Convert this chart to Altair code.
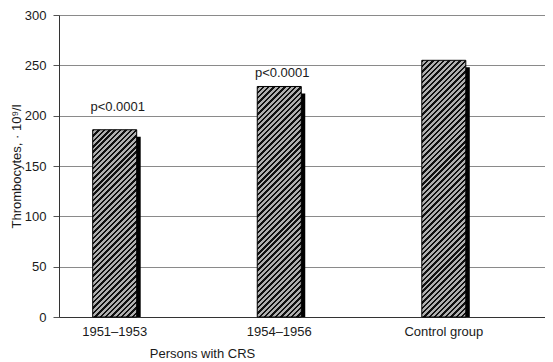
import altair as alt
import pandas as pd

# ---- data ----
categories = ["1951–1953", "1954–1956", "Control group"]
values = [186, 229, 255]
p_categories = ["1951–1953", "1954–1956"]
p_labels = ["p<0.0001", "p<0.0001"]
p_label_at = [205, 238]          # data-unit anchor of each annotation
y_ticks = [0, 50, 100, 150, 200, 250, 300]
y_title = "Thrombocytes,  · 10⁹/l"
x_title = "Persons with CRS"

# ---- layout / style ----
FONT = "Liberation Sans"
PAD_L, PAD_T = 51, 7
PLOT_W, PLOT_H = 486, 302
Y_MAX = 300
BAR_W = 44
STEP = 164.55
N = len(categories)
P_INNER = 1 - BAR_W / STEP
P_OUTER = (PLOT_W / STEP - (N - P_INNER)) / 2
ALIGN = 33.7 / (PLOT_W - STEP * (N - P_INNER))
DARK = "#111111"
LIGHT = "#b0b0b0"
PERIOD = 3.8  # stripe period (px, perpendicular)


def stripes(v):
    w = BAR_W
    h = v / Y_MAX * PLOT_H
    c = (w + h) / (w * w + h * h)
    n = max(1, round((w + h) / 2 ** 0.5 / PERIOD))
    stops = []
    for k in range(n):
        a = k / n
        b = (k + 0.45) / n
        e = (k + 1) / n
        stops += [
            alt.GradientStop(offset=a, color=DARK),
            alt.GradientStop(offset=b, color=DARK),
            alt.GradientStop(offset=b, color=LIGHT),
            alt.GradientStop(offset=e, color=LIGHT),
        ]
    return alt.LinearGradient(gradient="linear", x1=0, y1=0, x2=w * c, y2=h * c, stops=stops)


df = pd.DataFrame({"cat": categories, "value": values})
tdf = pd.DataFrame({"cat": p_categories, "value": p_label_at, "label": p_labels})

x_enc = alt.X(
    "cat:N",
    sort=categories,
    scale=alt.Scale(paddingInner=P_INNER, paddingOuter=P_OUTER, align=ALIGN),
    axis=alt.Axis(
        title=x_title,
        labelAngle=0,
        ticks=False,
        tickSize=0,
        labelPadding=8,
        labelFont=FONT,
        labelFontSize=13,
        labelColor="#1a1a1a",
        domainColor="#333333",
        domainWidth=1,
        grid=False,
        titleFont=FONT,
        titleFontSize=13,
        titleFontWeight="normal",
        titleColor="#1a1a1a",
        titleX=143,
        titleY=40,
        titleAlign="center",
        titleBaseline="alphabetic",
    ),
)
y_enc = alt.Y(
    "value:Q",
    scale=alt.Scale(domain=[0, Y_MAX], nice=False),
    axis=alt.Axis(
        title=y_title,
        values=y_ticks,
        tickSize=6,
        tickColor="#555555",
        labelPadding=7,
        labelFont=FONT,
        labelFontSize=13,
        labelColor="#1a1a1a",
        domainColor="#333333",
        grid=True,
        gridColor="#8a8a8a",
        gridWidth=1,
        titleFont=FONT,
        titleFontSize=13,
        titleFontWeight="normal",
        titleColor="#1a1a1a",
        titleX=-39,
        titleY=PLOT_H / 2,
        titleAngle=270,
        titleAlign="center",
        titleBaseline="alphabetic",
    ),
)

base = alt.Chart(df).encode(x=x_enc, y=y_enc)

shadow = base.mark_bar(color="#000000", xOffset=4, x2Offset=4, yOffset=7, y2Offset=0, clip=True)

layers = [shadow]
for cat, v in zip(categories, values):
    layers.append(
        base.transform_filter(alt.datum.cat == cat).mark_bar(
            fill=stripes(v), stroke="#000000", strokeWidth=1
        )
    )

texts = alt.Chart(tdf).mark_text(
    font=FONT, fontSize=13, baseline="alphabetic", align="center", dx=3, color="#1a1a1a"
).encode(x=x_enc, y=y_enc, text="label:N")
layers.append(texts)

chart = (
    alt.layer(*layers)
    .properties(
        width=PLOT_W,
        height=PLOT_H,
        padding={"left": PAD_L, "top": PAD_T, "right": 0, "bottom": 43},
        autosize=alt.AutoSizeParams(type="none"),
    )
    .configure_view(strokeWidth=0)
    .configure(background="white")
)

chart.save("out.html", embed_options={"renderer": "svg", "actions": False})
